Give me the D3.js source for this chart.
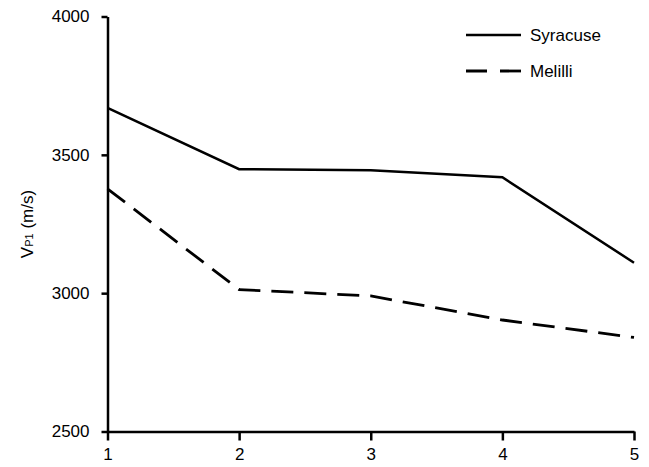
<!DOCTYPE html>
<html>
<head>
<meta charset="utf-8">
<script src="https://cdn.jsdelivr.net/npm/d3@7"></script>
<style>
  body { margin: 0; background: #fff; }
  svg { display: block; font-family: "Liberation Sans", Arial, sans-serif; }
</style>
</head>
<body>
<svg width="649" height="467"></svg>
<script>
// data
const xs = [1, 2, 3, 4, 5]
const syracuse = [3670, 3448, 3444, 3419, 3110]
const melilli = [3377, 3013, 2990, 2903, 2840]
const yTicks = [2500, 3000, 3500, 4000]
const seriesNames = ["Syracuse", "Melilli"]

const svg = d3.select("svg")

const x = d3.scaleLinear()
  .domain([1, 5])
  .range([107.5, 634])

const y = d3.scaleLinear()
  .domain([2500, 4000])
  .range([431.5, 16.5])

// axes
const xAxis = svg.append("g")
  .attr("transform", `translate(0, ${y(2500)})`)
  .call(d3.axisBottom(x).tickValues(xs).tickFormat(d3.format("d")).tickSize(9).tickSizeOuter(0).tickPadding(7))

const yAxis = svg.append("g")
  .attr("transform", `translate(${x(1)}, 0)`)
  .call(d3.axisLeft(y).tickValues(yTicks).tickFormat(d3.format("d")).tickSize(6).tickSizeOuter(0).tickPadding(12))

svg.selectAll(".domain, .tick line")
  .attr("stroke", "#000")
  .attr("stroke-width", 2.5)

svg.selectAll(".tick text")
  .attr("fill", "#000")
  .style("font-size", "17px")

// y label with subscript
const yLabel = svg.append("text")
  .attr("transform", `translate(33, ${(y(2500) + y(4000)) / 2}) rotate(-90)`)
  .attr("text-anchor", "middle")
  .style("font-size", "17px")
  .attr("fill", "#000")

yLabel.append("tspan").text("V")
yLabel.append("tspan").text("P1").style("font-size", "11px")
yLabel.append("tspan").text(" (m/s)")

// lines
const line = d3.line()
  .x((d, i) => x(xs[i]))
  .y(d => y(d))

svg.append("path")
  .datum(syracuse)
  .attr("d", line)
  .attr("fill", "none")
  .attr("stroke", "#000")
  .attr("stroke-width", 2.5)

svg.append("path")
  .datum(melilli)
  .attr("d", line)
  .attr("fill", "none")
  .attr("stroke", "#000")
  .attr("stroke-width", 2.8)
  .attr("stroke-dasharray", "22,11")

// legend
const legend = svg.append("g")
  .attr("transform", "translate(466, 35)")

legend.selectAll("line")
  .data(seriesNames)
  .enter()
  .append("line")
  .attr("x1", 0)
  .attr("x2", 55)
  .attr("y1", (d, i) => i * 36)
  .attr("y2", (d, i) => i * 36)
  .attr("stroke", "#000")
  .attr("stroke-width", (d, i) => i === 0 ? 2.5 : 2.8)
  .attr("stroke-dasharray", (d, i) => i === 0 ? null : "21,13")

legend.selectAll("text")
  .data(seriesNames)
  .enter()
  .append("text")
  .attr("x", 64)
  .attr("y", (d, i) => i * 36)
  .attr("dy", "0.35em")
  .style("font-size", "17px")
  .attr("fill", "#000")
  .text(d => d)
</script>
</body>
</html>
